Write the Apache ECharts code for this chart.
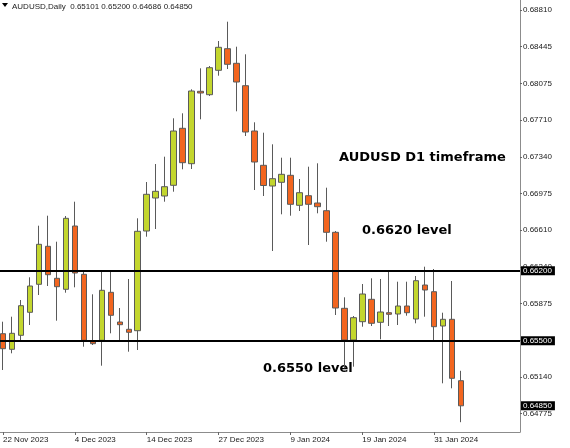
<!DOCTYPE html>
<html>
<head>
<meta charset="utf-8">
<script src="https://cdn.jsdelivr.net/npm/echarts@6/dist/echarts.min.js"></script>
<style>
  html, body { margin: 0; padding: 0; background: #ffffff; }
  #chart { width: 570px; height: 448px; }
</style>
</head>
<body>
<div id="chart"></div>
<script>
// AUDUSD daily candles, 22 Nov 2023 - 5 Feb 2024
const symbol = 'AUDUSD,Daily';

const dates = [
  '22 Nov 2023', '23 Nov 2023', '24 Nov 2023', '27 Nov 2023', '28 Nov 2023', '29 Nov 2023',
  '30 Nov 2023', '1 Dec 2023', '4 Dec 2023', '5 Dec 2023', '6 Dec 2023', '7 Dec 2023',
  '8 Dec 2023', '11 Dec 2023', '12 Dec 2023', '13 Dec 2023', '14 Dec 2023', '15 Dec 2023',
  '18 Dec 2023', '19 Dec 2023', '20 Dec 2023', '21 Dec 2023', '22 Dec 2023', '26 Dec 2023',
  '27 Dec 2023', '28 Dec 2023', '29 Dec 2023', '2 Jan 2024', '3 Jan 2024', '4 Jan 2024',
  '5 Jan 2024', '8 Jan 2024', '9 Jan 2024', '10 Jan 2024', '11 Jan 2024', '12 Jan 2024',
  '15 Jan 2024', '16 Jan 2024', '17 Jan 2024', '18 Jan 2024', '19 Jan 2024', '22 Jan 2024',
  '23 Jan 2024', '24 Jan 2024', '25 Jan 2024', '26 Jan 2024', '29 Jan 2024', '30 Jan 2024',
  '31 Jan 2024', '1 Feb 2024', '2 Feb 2024', '5 Feb 2024'
];

const opens = [
  0.65571, 0.65415, 0.65555, 0.65785, 0.66065, 0.66445, 0.66125, 0.66015, 0.66648, 0.66165,
  0.65491, 0.65505, 0.65985, 0.65688, 0.65615, 0.65601, 0.66598, 0.66928, 0.66948, 0.67055,
  0.67625, 0.67271, 0.67995, 0.67961, 0.68205, 0.68421, 0.68275, 0.68051, 0.67598, 0.67255,
  0.67048, 0.67085, 0.67155, 0.66855, 0.66951, 0.66878, 0.66801, 0.66585, 0.65825, 0.65508,
  0.65691, 0.65915, 0.65685, 0.65781, 0.65768, 0.65848, 0.65718, 0.66058, 0.65991, 0.65648,
  0.65715, 0.65101
];

const closes = [
  0.65421, 0.65575, 0.65851, 0.66048, 0.66465, 0.66161, 0.66041, 0.66725, 0.66178, 0.65505,
  0.65471, 0.66005, 0.65755, 0.65661, 0.65585, 0.66595, 0.66965, 0.66995, 0.67041, 0.67598,
  0.67281, 0.67998, 0.67978, 0.68231, 0.68435, 0.68265, 0.68088, 0.67588, 0.67288, 0.67053,
  0.67121, 0.67165, 0.66865, 0.66981, 0.66865, 0.66841, 0.66585, 0.65828, 0.65508, 0.65731,
  0.65968, 0.65675, 0.65788, 0.65765, 0.65848, 0.65781, 0.66101, 0.66008, 0.65641, 0.65715,
  0.65125, 0.64850
];

const lows = [
  0.65208, 0.65375, 0.65508, 0.65658, 0.65958, 0.66048, 0.65701, 0.65981, 0.66035, 0.65441,
  0.65458, 0.65251, 0.65575, 0.65508, 0.65391, 0.65408, 0.66541, 0.66618, 0.66891, 0.66991,
  0.67215, 0.67218, 0.67715, 0.67948, 0.68151, 0.68218, 0.67795, 0.67548, 0.67008, 0.66948,
  0.66398, 0.66765, 0.66751, 0.66798, 0.66458, 0.66775, 0.66491, 0.65758, 0.65225, 0.65241,
  0.65641, 0.65648, 0.65515, 0.65648, 0.65658, 0.65751, 0.65675, 0.65741, 0.65508, 0.65075,
  0.65025, 0.64686
];

const highs = [
  0.65691, 0.65741, 0.65908, 0.66135, 0.66651, 0.66751, 0.66491, 0.66748, 0.66891, 0.66208,
  0.65965, 0.66201, 0.66201, 0.65828, 0.66118, 0.66725, 0.67088, 0.67268, 0.67341, 0.67725,
  0.67775, 0.68015, 0.68225, 0.68248, 0.68498, 0.68691, 0.68441, 0.68365, 0.67685, 0.67581,
  0.67465, 0.67331, 0.67331, 0.67118, 0.67241, 0.67275, 0.67031, 0.66598, 0.65935, 0.65748,
  0.66068, 0.66125, 0.66118, 0.66191, 0.66091, 0.66091, 0.66148, 0.66241, 0.66218, 0.65781,
  0.66098, 0.65200
];

// Price scale labels on the right axis
const priceTicks = [
  0.68810, 0.68445, 0.68075, 0.67710, 0.67340, 0.66975,
  0.66610, 0.66240, 0.65875, 0.65505, 0.65140, 0.64775
];

// Horizontal support / resistance levels
const levels = [0.66200, 0.65500];
const levelTexts = ['0.6620 level', '0.6550 level'];

const chartTitle = 'AUDUSD D1 timeframe';

const priceMin = 0.64588;
const priceMax = 0.68908;

const last = dates.length - 1;
const lastPrice = closes[last];
const headerText = symbol + '  ' +
  [opens[last], highs[last], lows[last], closes[last]].map(v => v.toFixed(5)).join(' ');

const candles = dates.map((d, i) => [opens[i], closes[i], lows[i], highs[i]]);

const BULL = '#c3d62e';
const BEAR = '#f2651f';
const OUTLINE = '#5a5a5a';
const AXIS = '#8c8c8c';
const TEXT = '#1a1a1a';
const SMALL_FONT = 'Liberation Sans, Arial, sans-serif';
const BOLD_FONT = 'bold 13px "DejaVu Sans", Verdana, sans-serif';

const dateEvery = (idx) => idx % 8 === 0 && idx < dates.length;

const priceBox = {
  show: true,
  position: 'end',
  distance: 1,
  formatter: p => Number(p.value).toFixed(5),
  backgroundColor: '#000000',
  color: '#ffffff',
  fontSize: 8,
  fontFamily: SMALL_FONT,
  padding: [1, 3, 0, 2]
};

const chart = echarts.init(document.getElementById('chart'), null, { renderer: 'canvas' });

chart.setOption({
  animation: false,
  backgroundColor: '#ffffff',
  grid: [
    { left: 2, top: 0, width: 513, height: 432 },
    { left: 0, top: 0, width: 520, height: 432 }
  ],
  xAxis: [
    {
      gridIndex: 0,
      type: 'category',
      data: dates,
      boundaryGap: false,
      max: 57,
      axisLine: { show: false },
      axisTick: { show: true, interval: dateEvery, length: 3, lineStyle: { color: '#666' } },
      axisLabel: {
        interval: dateEvery,
        align: 'left',
        margin: 4,
        fontSize: 8,
        fontFamily: SMALL_FONT,
        color: TEXT
      },
      splitLine: { show: false }
    },
    {
      gridIndex: 1,
      type: 'value',
      min: 0,
      max: 1,
      axisLine: { show: true, onZero: false, lineStyle: { color: AXIS, width: 1 } },
      axisTick: { show: false },
      axisLabel: { show: false },
      splitLine: { show: false }
    }
  ],
  yAxis: [
    { gridIndex: 0, type: 'value', min: priceMin, max: priceMax, show: false },
    {
      gridIndex: 1,
      type: 'value',
      position: 'right',
      min: priceMin,
      max: priceMax,
      axisLine: { show: true, onZero: false, lineStyle: { color: AXIS, width: 1 } },
      axisTick: { show: true, length: 2, customValues: priceTicks, lineStyle: { color: '#666' } },
      axisLabel: {
        customValues: priceTicks,
        formatter: v => Number(v).toFixed(5),
        fontSize: 8,
        fontFamily: SMALL_FONT,
        color: TEXT,
        margin: 3
      },
      splitLine: { show: false }
    }
  ],
  series: [
    {
      type: 'candlestick',
      xAxisIndex: 0,
      yAxisIndex: 0,
      data: candles,
      barWidth: 6,
      clip: false,
      itemStyle: {
        color: BULL,
        color0: BEAR,
        borderColor: OUTLINE,
        borderColor0: OUTLINE,
        borderColorDoji: OUTLINE,
        borderWidth: 1
      }
    },
    {
      type: 'line',
      xAxisIndex: 1,
      yAxisIndex: 1,
      data: [],
      silent: true,
      markLine: {
        silent: true,
        symbol: 'none',
        precision: 5,
        animation: false,
        data: levels.map(v => ({
          yAxis: v,
          lineStyle: { color: '#000000', width: 2, type: 'solid' },
          label: priceBox
        })).concat([{
          yAxis: lastPrice,
          lineStyle: { color: 'rgba(0,0,0,0)', width: 0 },
          label: priceBox
        }]),
        label: priceBox
      }
    }
  ],
  graphic: [
    {
      type: 'polygon',
      shape: { points: [[2, 3], [8, 3], [5, 7]] },
      style: { fill: '#000000' }
    },
    {
      type: 'text',
      x: 12,
      y: 7,
      style: {
        text: headerText,
        font: '8px ' + SMALL_FONT,
        fill: TEXT,
        verticalAlign: 'middle'
      }
    },
    {
      type: 'text',
      x: 339,
      y: 158,
      style: { text: chartTitle, font: BOLD_FONT, fill: '#000000', verticalAlign: 'middle' }
    },
    {
      type: 'text',
      x: 362,
      y: 230.5,
      style: { text: levelTexts[0], font: BOLD_FONT, fill: '#000000', verticalAlign: 'middle' }
    },
    {
      type: 'text',
      x: 263,
      y: 369,
      style: { text: levelTexts[1], font: BOLD_FONT, fill: '#000000', verticalAlign: 'middle' }
    }
  ]
});
</script>
</body>
</html>
